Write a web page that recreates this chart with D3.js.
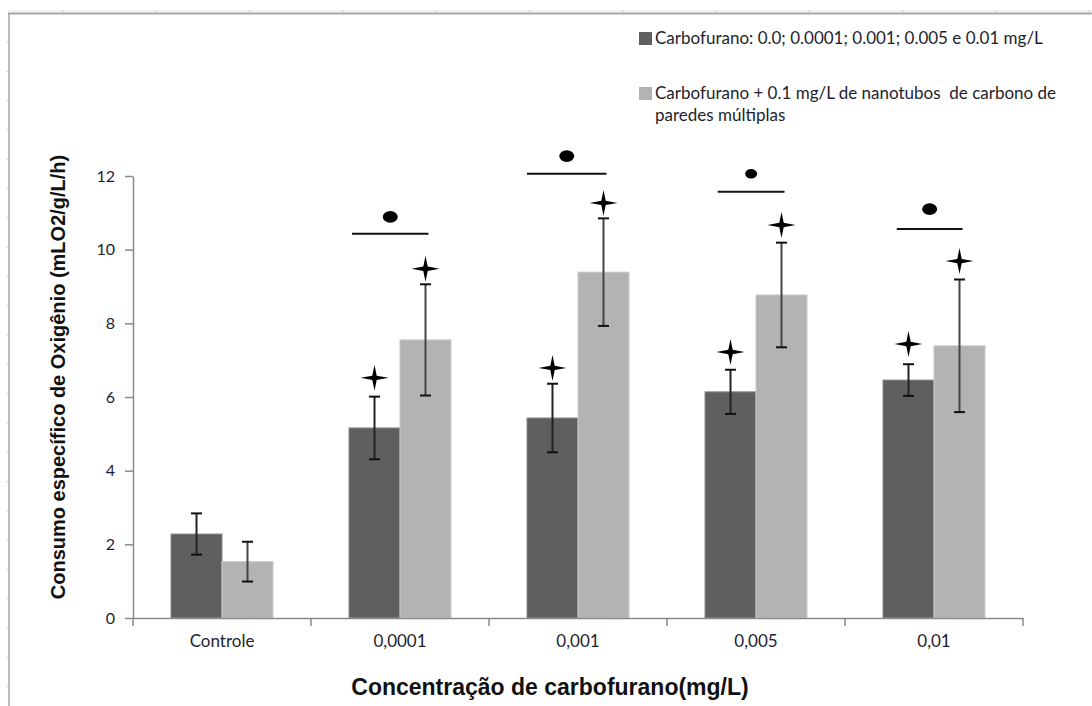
<!DOCTYPE html>
<html>
<head>
<meta charset="utf-8">
<script src="https://cdn.jsdelivr.net/npm/d3@7"></script>
<style>
  body { margin: 0; background: #fff; }
  svg { display: block; }
</style>
</head>
<body>
<script>
const width = 1092;
const height = 706;

// data
const categories = ["Controle", "0,0001", "0,001", "0,005", "0,01"];
const carbofuran = [2.28, 5.16, 5.43, 6.14, 6.46];
const carbofuranErr = [0.56, 0.85, 0.93, 0.60, 0.43];
const nanotubos = [1.53, 7.55, 9.39, 8.77, 7.39];
const nanotubosErr = [0.54, 1.51, 1.46, 1.42, 1.80];
const starCarbofuran = [null, 6.52, 6.79, 7.22, 7.44];
const starNanotubos = [null, 9.48, 11.27, 10.67, 9.69];
const bracketLevel = [null, 10.43, 12.06, 11.57, 10.56];
const dotLevel = [null, 10.89, 12.54, 12.06, 11.1];
const yTicks = [0, 2, 4, 6, 8, 10, 12];
const legendLabels = [
    ["Carbofurano: 0.0; 0.0001; 0.001; 0.005 e 0.01 mg/L"],
    ["Carbofurano + 0.1 mg/L de nanotubos  de carbono de", "paredes múltiplas"]
];

const darkColor = "#5f5f5f";
const lightColor = "#b3b3b3";
const axisColor = "#8a8a8a";
const labelFont = "Lato, 'Open Sans', sans-serif";
const titleFont = "'Liberation Sans', Arial, sans-serif";

// left inset of the significance bracket, as a share of one bar
const bracketInset = [0, 0.06, 0.0, 0.25, 0.27];

const svg = d3.select("body").append("svg")
    .attr("width", width).attr("height", height);

// sheet frame
svg.append("line").attr("x1", 8).attr("x2", width).attr("y1", 11).attr("y2", 11)
    .attr("stroke", "#e2e6ee").attr("stroke-width", 1);
svg.append("line").attr("x1", 8).attr("x2", width).attr("y1", 13.5).attr("y2", 13.5)
    .attr("stroke", "#a6a6a6").attr("stroke-width", 2);
svg.append("line").attr("x1", 9).attr("x2", 9).attr("y1", 13).attr("y2", height)
    .attr("stroke", "#a6a6a6").attr("stroke-width", 1.5);
d3.range(63, width, 93.3).forEach(xx => {
    svg.append("line").attr("x1", xx).attr("x2", xx).attr("y1", 10).attr("y2", 12.5)
        .attr("stroke", "#c8ccd4");
});
d3.range(42, height, 29.3).forEach(yy => {
    svg.append("line").attr("x1", 6.5).attr("x2", 8).attr("y1", yy).attr("y2", yy)
        .attr("stroke", "#c8ccd4");
});

const xScale = d3.scaleBand().domain(categories).range([133, 1023]).padding(0);
const subScale = d3.scaleBand().domain(["c", "n"])
    .range([0, xScale.bandwidth()]).paddingInner(0).paddingOuter(0.745);
const yScale = d3.scaleLinear().domain([0, 12]).range([618, 176]);

const plot = svg.append("g");

// y axis
const yAxis = svg.append("g").attr("transform", "translate(133,0)")
    .call(d3.axisLeft(yScale).tickValues(yTicks).tickSize(8).tickSizeOuter(0).tickPadding(10));
yAxis.select(".domain").attr("stroke", axisColor).attr("stroke-width", 1.5);
yAxis.selectAll(".tick line").attr("stroke", axisColor).attr("stroke-width", 1.5);
yAxis.selectAll(".tick text").attr("font-family", labelFont).attr("font-size", 16).attr("fill", "#1e1e2e");

// x axis: labels centred, ticks at band boundaries
const xAxis = svg.append("g").attr("transform", "translate(0,618)")
    .call(d3.axisBottom(xScale).tickSize(0).tickSizeOuter(0).tickPadding(17));
xAxis.select(".domain").attr("stroke", axisColor).attr("stroke-width", 1.5);
xAxis.selectAll(".tick text").attr("font-family", labelFont).attr("font-size", 17).attr("fill", "#1e1e2e");
xAxis.selectAll(".bound").data(categories.concat([null])).enter().append("line")
    .attr("class", "bound")
    .attr("x1", (d, i) => xScale.range()[0] + i * xScale.step())
    .attr("x2", (d, i) => xScale.range()[0] + i * xScale.step())
    .attr("y1", 0).attr("y2", 8)
    .attr("stroke", axisColor).attr("stroke-width", 1.5);

// bars
const series = [
    { key: "c", values: carbofuran, err: carbofuranErr, star: starCarbofuran, color: darkColor, edge: "#8a8a8a", errColor: "#222" },
    { key: "n", values: nanotubos, err: nanotubosErr, star: starNanotubos, color: lightColor, edge: "#c9c9c9", errColor: "#444" }
];

series.forEach(s => {
    plot.selectAll(".bar-" + s.key).data(s.values).enter().append("rect")
        .attr("x", (d, i) => xScale(categories[i]) + subScale(s.key))
        .attr("y", d => yScale(d))
        .attr("width", subScale.bandwidth())
        .attr("height", d => yScale(0) - yScale(d))
        .attr("fill", s.color)
        .attr("stroke", s.edge).attr("stroke-width", 1);
});

// error bars
const cap = 5.5;
series.forEach(s => {
    const cx = i => xScale(categories[i]) + subScale(s.key) + subScale.bandwidth() / 2;
    s.values.forEach((v, i) => {
        const top = yScale(v + s.err[i]);
        const bot = yScale(v - s.err[i]);
        plot.append("line").attr("x1", cx(i)).attr("x2", cx(i)).attr("y1", top).attr("y2", bot)
            .attr("stroke", s.errColor).attr("stroke-width", 2);
        [top, bot].forEach(yy => {
            plot.append("line").attr("x1", cx(i) - cap).attr("x2", cx(i) + cap)
                .attr("y1", yy).attr("y2", yy)
                .attr("stroke", "#111").attr("stroke-width", 2);
        });
    });
});

// four-point stars
const starPath = (rx, ry, r) => {
    const pts = [[0, -ry], [r, -r], [rx, 0], [r, r], [0, ry], [-r, r], [-rx, 0], [-r, -r]];
    return "M" + pts.map(p => p.join(",")).join("L") + "Z";
};
series.forEach(s => {
    s.star.forEach((v, i) => {
        if (v === null) return;
        const cx = xScale(categories[i]) + subScale(s.key) + subScale.bandwidth() / 2;
        plot.append("path")
            .attr("d", starPath(14, 13, 2.2))
            .attr("transform", "translate(" + cx + "," + yScale(v) + ")")
            .attr("fill", "#000");
    });
});

// significance brackets and dots
bracketLevel.forEach((v, i) => {
    if (v === null) return;
    const x0 = xScale(categories[i]) + subScale("c") + bracketInset[i] * subScale.bandwidth();
    const x1 = xScale(categories[i]) + subScale("n") + subScale.bandwidth() / 2 + 3;
    plot.append("line").attr("x1", x0).attr("x2", x1)
        .attr("y1", yScale(v)).attr("y2", yScale(v))
        .attr("stroke", "#111").attr("stroke-width", 2);
    plot.append("ellipse")
        .attr("cx", (x0 + x1) / 2).attr("cy", yScale(dotLevel[i]))
        .attr("rx", i === 3 ? 6 : 7.5).attr("ry", i === 3 ? 4.8 : 5.8)
        .attr("fill", "#000");
});

// axis titles
svg.append("text")
    .attr("transform", "translate(65,377) rotate(-90)")
    .attr("text-anchor", "middle")
    .attr("font-family", titleFont).attr("font-weight", "bold").attr("font-size", 20)
    .attr("fill", "#111")
    .text("Consumo específico de Oxigênio (mLO2/g/L/h)");

svg.append("text")
    .attr("x", 550).attr("y", 695)
    .attr("text-anchor", "middle")
    .attr("font-family", titleFont).attr("font-weight", "bold").attr("font-size", 23)
    .attr("fill", "#111")
    .text("Concentração de carbofurano(mg/L)");

// legend
const legend = svg.append("g").attr("transform", "translate(639,0)");
const legendRows = [31, 86];
legendLabels.forEach((lines, k) => {
    legend.append("rect")
        .attr("x", 0).attr("y", legendRows[k] + 1)
        .attr("width", 13).attr("height", 13)
        .attr("fill", k === 0 ? darkColor : lightColor);
    lines.forEach((t, j) => {
        legend.append("text")
            .attr("x", 16).attr("y", legendRows[k] + 13 + j * 22)
            .attr("font-family", labelFont).attr("font-size", 17)
            .attr("fill", "#1e1e2e")
            .attr("xml:space", "preserve")
            .text(t);
    });
});
</script>
</body>
</html>
